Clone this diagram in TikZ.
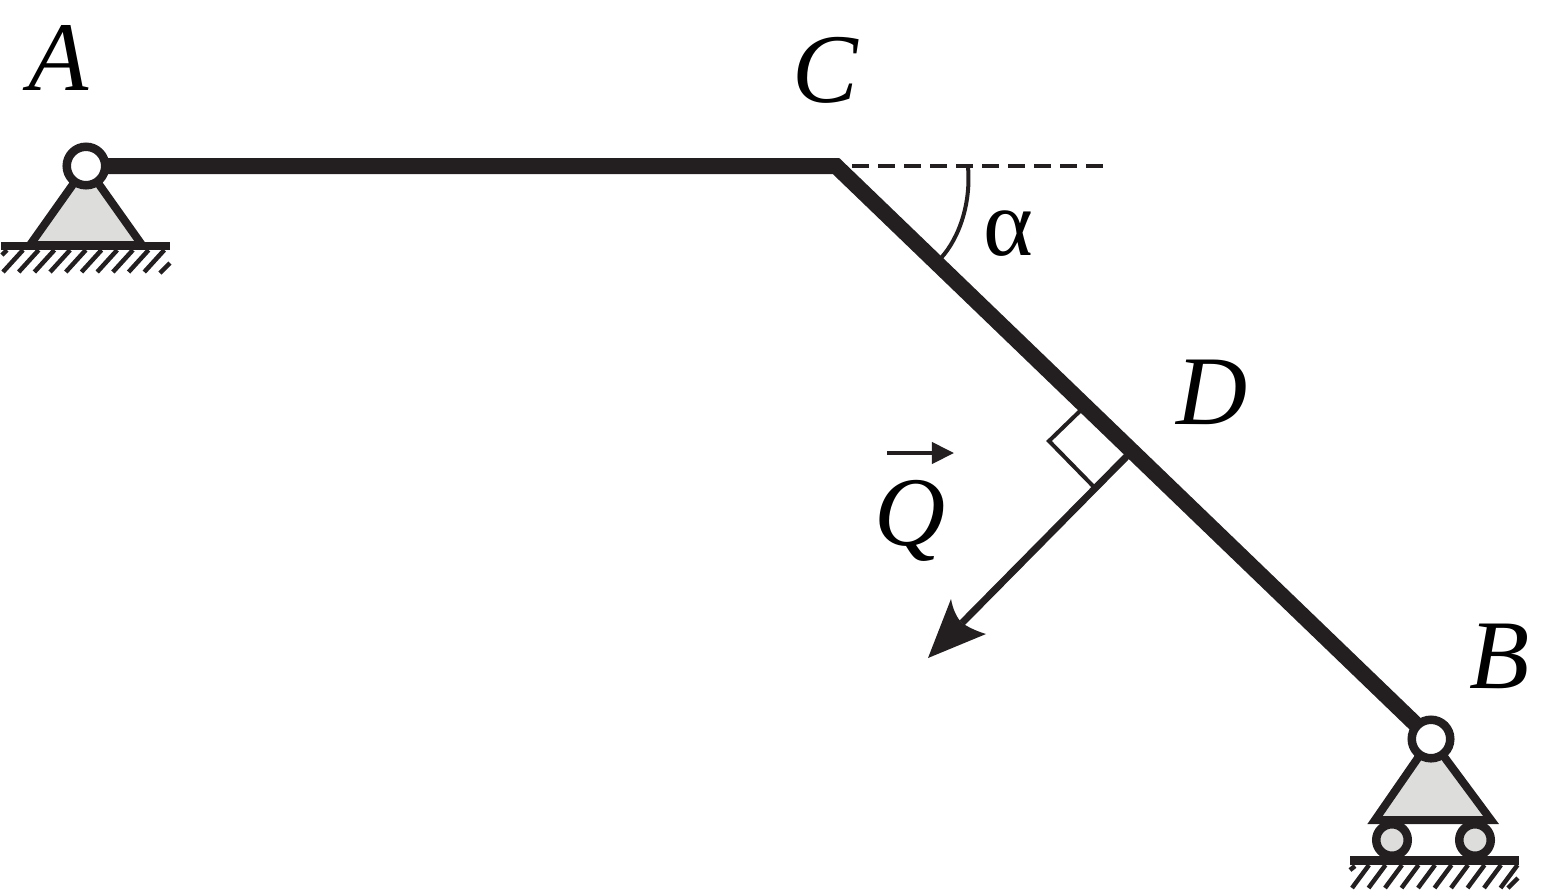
\documentclass[tikz,border=0pt]{standalone}
\usepackage{fontspec}
\setmainfont{Liberation Serif}
\usetikzlibrary{arrows.meta}
\definecolor{ink}{RGB}{35,31,32}
\definecolor{fillgray}{RGB}{221,221,220}
\tikzset{
  beam/.style={line width=0.16cm,draw=ink},
  hinge/.style={circle,draw=ink,fill=white,line width=0.085cm,minimum size=0.385cm,inner sep=0pt},
  roller/.style={circle,draw=ink,fill=fillgray,line width=0.085cm,minimum size=0.315cm,inner sep=0pt},
  support/.style={draw=ink,fill=fillgray,line width=0.08cm,line join=miter},
  ground/.style={line width=0.085cm,draw=ink},
  hatchline/.style={line width=0.045cm,draw=ink},
  thinline/.style={line width=0.04cm,draw=ink},
  lab/.style={inner sep=0pt,text=black,font=\fontsize{28}{34}\selectfont\itshape}
}
\begin{document}
\begin{tikzpicture}[x=0.01cm,y=-0.01cm]
\useasboundingbox (0,0) rectangle (1554,890);
\coordinate (Aj) at (86,166);
\coordinate (C) at (836,166);
\coordinate (Bj) at (1431,739);
\coordinate (D) at (1127,456);
\coordinate (Qtip) at (928,658);
\coordinate (Qn) at (962,623);
% supports
\draw[support] (30,245)--(86,166)--(142,245)--cycle;
\draw[ground] (1,246)--(170,246);
\foreach \i in {0,...,9} \draw[hatchline] (23+15.7*\i,250)--(3+15.7*\i,272);
\draw[hatchline] (7,250)--(2,255);
\draw[hatchline] (170,263)--(160,273);
\draw[support] (1375,820)--(1431,739)--(1491,820)--cycle;
\node[roller] (w1) at (1392,840) {};
\node[roller] (w2) at (1475,840) {};
\draw[ground] (1350,860.5)--(1519,860.5);
\foreach \i in {0,...,9} \draw[hatchline] (1369+16.5*\i,865)--(1352+16.5*\i,888);
\draw[hatchline] (1355,866)--(1350,870);
\draw[hatchline] (1518,878)--(1508,888);
% bar
\draw[beam] (Aj)--(C)--(Bj);
\node[hinge] (A) at (Aj) {};
\node[hinge] (B) at (Bj) {};
% angle
\coordinate (dash1) at (852,166);
\coordinate (dash2) at (1106,166);
\draw[thinline,line width=0.035cm,dash pattern=on 0.17cm off 0.09cm] (dash1)--(dash2);
\coordinate (arc1) at (968,167);
\coordinate (arc2) at (941,258);
\draw[thinline] (arc1) .. controls (971,202) and (960,237) .. (arc2);
% load
\draw[line width=0.07cm,draw=ink] (D)--(Qn);
\fill[ink] (Qtip)--(951,599) .. controls (953,610) and (957,618) .. (Qn) .. controls (968,627) and (976,631) .. (986,634)--cycle;
\coordinate (r1) at (1080,411);
\coordinate (r2) at (1049,441);
\coordinate (r3) at (1094,487);
\draw[thinline] (r1)--(r2)--(r3);
\coordinate (v1) at (887,453);
\coordinate (v2) at (954,453);
\draw[thinline,-{Stealth[length=0.22cm,width=0.21cm,inset=0pt]}] (v1)--(v2);
% labels
\node[lab] (lA) at (59,58) {A};
\node[lab] (lC) at (825,70) {C};
\node[lab] (lD) at (1212,392) {D};
\node[lab] (lB) at (1500,656) {B};
\node[lab] (lQ) at (910,521) {Q};
\node[lab,font=\fontsize{27}{32}\selectfont] (la) at (1008,234) {α};
\end{tikzpicture}
\end{document}
